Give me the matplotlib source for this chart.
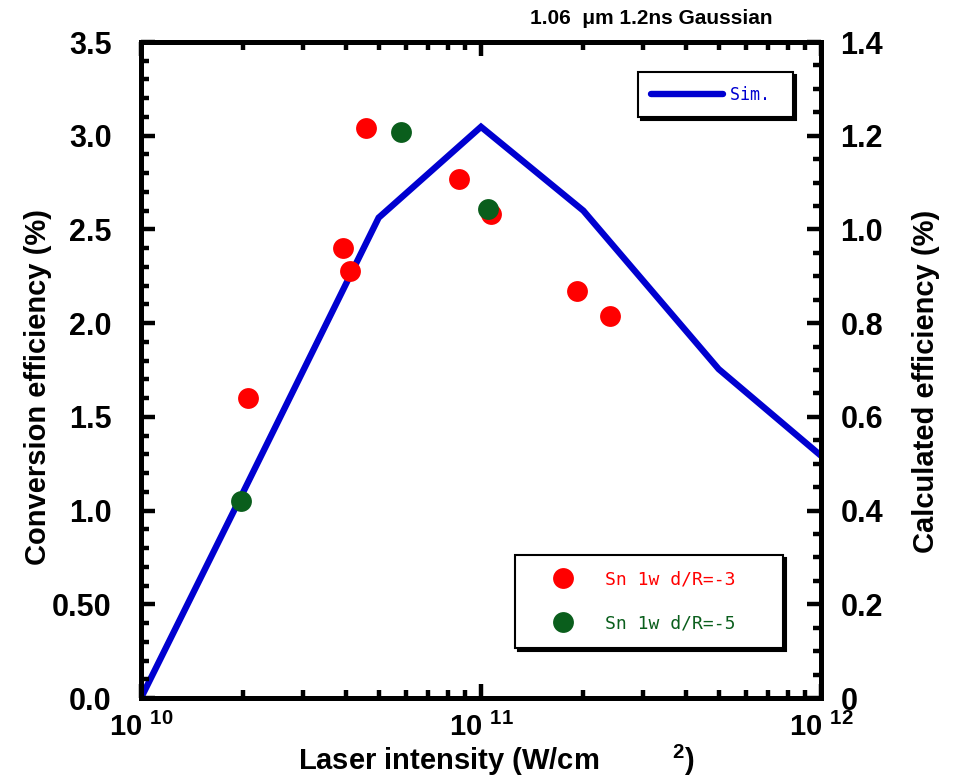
import matplotlib

matplotlib.use("Agg")
import matplotlib.pyplot as plt
from matplotlib.lines import Line2D
from matplotlib.ticker import FixedLocator, FixedFormatter, LogLocator, NullFormatter

plt.rcParams["font.family"] = "Liberation Sans"
plt.rcParams["font.weight"] = "bold"
plt.rcParams["mathtext.fontset"] = "custom"
plt.rcParams["mathtext.rm"] = "Liberation Sans:bold"
plt.rcParams["mathtext.it"] = "Liberation Sans:bold"
plt.rcParams["mathtext.bf"] = "Liberation Sans:bold"

# simulation (right axis, calculated efficiency %)
sim_intensity = [1e10, 2e10, 5e10, 1e11, 2e11, 5e11, 1e12]
sim_eff = [0.0, 0.44, 1.025, 1.219, 1.04, 0.702, 0.517]

# measured (left axis, conversion efficiency %)
d3_intensity = [2.07e10, 3.93e10, 4.12e10, 4.59e10, 8.64e10, 1.067e11, 1.91e11, 2.40e11]
d3_eff = [1.60, 2.40, 2.28, 3.04, 2.77, 2.58, 2.17, 2.04]
d5_intensity = [1.97e10, 5.82e10, 1.05e11]
d5_eff = [1.05, 3.02, 2.61]

left_ticks = [0.0, 0.5, 1.0, 1.5, 2.0, 2.5, 3.0, 3.5]
left_labels = ["0.0", "0.50", "1.0", "1.5", "2.0", "2.5", "3.0", "3.5"]
right_ticks = [0.0, 0.2, 0.4, 0.6, 0.8, 1.0, 1.2, 1.4]
right_labels = ["0", "0.2", "0.4", "0.6", "0.8", "1.0", "1.2", "1.4"]
x_ticks = [1e10, 1e11, 1e12]
x_labels = ["10 $^{10}$", "10 $^{11}$", "10 $^{12}$"]

BLUE = "#0000d0"
RED = "#ff0000"
GREEN = "#0a5e1c"

fig = plt.figure(figsize=(9.57, 7.78), dpi=100)
ax = fig.add_axes([141 / 957, 1 - 698 / 778, 680 / 957, 656 / 778])
ax2 = ax.twinx()
ax.set_zorder(ax2.get_zorder() + 1)
ax.patch.set_visible(False)

(sim_line,) = ax2.plot(sim_intensity, sim_eff, color=BLUE, linewidth=4.6,
                       solid_joinstyle="miter", solid_capstyle="round", label="Sim.")
ax.plot(d3_intensity, d3_eff, "o", color=RED, markersize=15, markeredgewidth=0)
ax.plot(d5_intensity, d5_eff, "o", color=GREEN, markersize=15, markeredgewidth=0)

ax.set_xscale("log")
ax.set_xlim(1e10, 1e12)
ax.set_ylim(0, 3.5)
ax2.set_ylim(0, 1.4)

ax.xaxis.set_major_locator(FixedLocator(x_ticks))
ax.xaxis.set_major_formatter(FixedFormatter(x_labels))
ax.xaxis.set_minor_locator(LogLocator(base=10, subs=range(2, 10)))
ax.xaxis.set_minor_formatter(NullFormatter())

ax.yaxis.set_major_locator(FixedLocator(left_ticks))
ax.yaxis.set_major_formatter(FixedFormatter(left_labels))
ax.yaxis.set_minor_locator(FixedLocator([i / 10 for i in range(36)]))
ax2.yaxis.set_major_locator(FixedLocator(right_ticks))
ax2.yaxis.set_major_formatter(FixedFormatter(right_labels))
ax2.yaxis.set_minor_locator(FixedLocator([i / 20 for i in range(29)]))

for a in (ax, ax2):
    for s in a.spines.values():
        s.set_linewidth(3.6)
    a.tick_params(which="major", direction="in", length=10, width=3.2)
    a.tick_params(which="minor", direction="in", length=6, width=3.2)

ax.tick_params(axis="x", which="both", top=True, labelsize=21, pad=11)
ax.tick_params(axis="y", which="both", right=False, labelsize=22, pad=21)
ax2.tick_params(axis="y", which="both", labelsize=22, pad=14)

ax.set_xlabel("Laser intensity (W/cm         $^{2}$)", fontsize=21, fontweight="bold")
ax.xaxis.set_label_coords(0.522, -0.069)
ax.set_ylabel("Conversion efficiency (%)", fontsize=21, fontweight="bold")
ax.yaxis.set_label_coords(-0.131, 0.474)
ax2.set_ylabel("Calculated efficiency (%)", fontsize=21, fontweight="bold")
ax2.yaxis.set_label_coords(1.134, 0.482)

ax.text(0.929, 1.022, "1.06  \u03bcm 1.2ns Gaussian", transform=ax.transAxes,
        ha="right", va="bottom", fontsize=15, fontweight="bold")

mono = {"family": "DejaVu Sans Mono", "size": 12, "weight": "normal"}
leg1 = ax.legend(handles=[sim_line], labels=["Sim. "], loc="upper left",
                 bbox_to_anchor=(0.731, 0.954), borderaxespad=0, fancybox=False,
                 shadow={"color": "black", "alpha": 1}, framealpha=1, edgecolor="black",
                 prop=mono, labelcolor=[BLUE], handlelength=4.3, handletextpad=0.4,
                 borderpad=0.8)
leg1.get_frame().set_linewidth(1.5)
ax.add_artist(leg1)

h3 = Line2D([], [], linestyle="none", marker="o", color=RED, markersize=15, markeredgewidth=0)
h5 = Line2D([], [], linestyle="none", marker="o", color=GREEN, markersize=15, markeredgewidth=0)
mono2 = {"family": "DejaVu Sans Mono", "size": 13, "weight": "normal"}
leg2 = ax.legend(handles=[h3, h5], labels=["Sn 1w d/R=-3   ", "Sn 1w d/R=-5   "],
                 loc="upper left", bbox_to_anchor=(0.55, 0.218), borderaxespad=0,
                 fancybox=False, shadow={"color": "black", "alpha": 1}, framealpha=1,
                 edgecolor="black", prop=mono2, labelcolor=[RED, GREEN],
                 handlelength=3.67, handletextpad=0.44, borderpad=0.85, labelspacing=1.45)
leg2.get_frame().set_linewidth(1.5)

fig.savefig("out.png", dpi=100)
